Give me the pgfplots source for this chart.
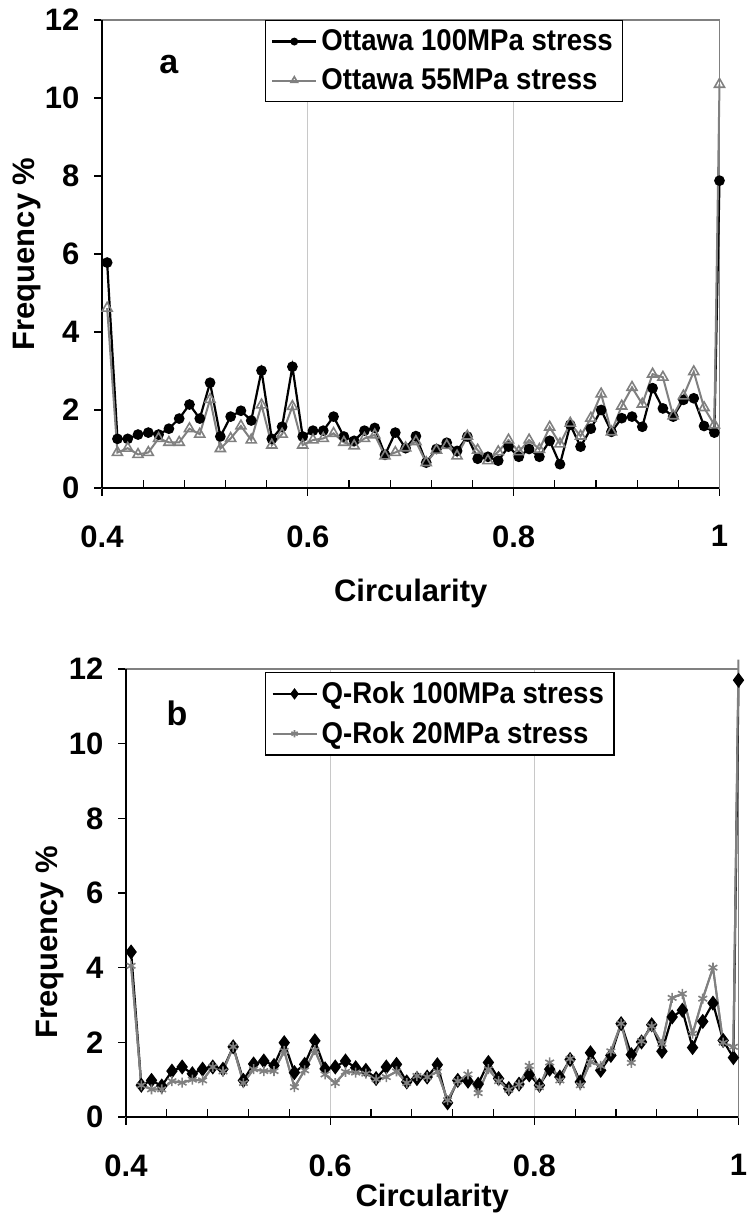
\documentclass[border=0pt]{standalone}
\usepackage{fontspec}
\setmainfont{Liberation Sans}
\newfontfamily\legfont[FakeStretch=0.92]{Liberation Sans}
\usepackage{pgfplots}
\usepackage{pgfplotstable}
\pgfplotsset{compat=1.18}
\definecolor{sgray}{HTML}{808080}
\definecolor{gridc}{HTML}{C8C8C8}

\pgfplotstableread{
x a b
0.405 5.78 4.61
0.415 1.26 0.91
0.425 1.26 1.02
0.435 1.37 0.86
0.445 1.42 0.91
0.455 1.37 1.27
0.465 1.52 1.17
0.475 1.78 1.17
0.485 2.14 1.52
0.495 1.78 1.38
0.505 2.70 2.27
0.515 1.32 1.01
0.525 1.83 1.27
0.535 1.98 1.59
0.545 1.73 1.23
0.555 3.01 2.13
0.565 1.26 1.10
0.575 1.57 1.38
0.585 3.11 2.09
0.595 1.32 1.10
0.605 1.47 1.23
0.615 1.47 1.27
0.625 1.83 1.40
0.635 1.32 1.17
0.645 1.21 1.08
0.655 1.47 1.27
0.665 1.54 1.36
0.675 0.85 0.82
0.685 1.42 0.91
0.695 1.02 1.03
0.705 1.33 1.19
0.715 0.65 0.65
0.725 1.00 0.97
0.735 1.16 1.09
0.745 0.95 0.82
0.755 1.32 1.33
0.765 0.75 0.97
0.775 0.80 0.70
0.785 0.70 0.93
0.795 1.06 1.23
0.805 0.80 0.93
0.815 1.00 1.23
0.825 0.80 0.99
0.835 1.21 1.56
0.845 0.61 1.13
0.855 1.62 1.66
0.865 1.06 1.33
0.875 1.52 1.79
0.885 2.00 2.41
0.895 1.44 1.44
0.905 1.79 2.10
0.915 1.83 2.58
0.925 1.57 2.15
0.935 2.56 2.92
0.945 2.04 2.84
0.955 1.83 1.85
0.965 2.26 2.36
0.975 2.30 2.98
0.985 1.59 2.06
0.995 1.42 1.62
1.000 7.88 10.35
}\tabA

\pgfplotstableread{
x a b
0.405 4.42 4.05
0.415 0.85 0.85
0.425 0.98 0.74
0.435 0.83 0.74
0.445 1.23 0.96
0.455 1.34 0.92
0.465 1.16 1.00
0.475 1.28 0.98
0.485 1.34 1.34
0.495 1.28 1.22
0.505 1.88 1.88
0.515 0.98 0.91
0.525 1.42 1.28
0.535 1.50 1.23
0.545 1.38 1.23
0.555 1.99 1.77
0.565 1.19 0.80
0.575 1.41 1.25
0.585 2.04 1.79
0.595 1.29 1.14
0.605 1.34 0.91
0.615 1.50 1.21
0.625 1.32 1.19
0.635 1.25 1.16
0.645 1.03 1.01
0.655 1.34 1.07
0.665 1.41 1.22
0.675 0.94 0.91
0.685 1.03 1.10
0.695 1.07 1.07
0.705 1.40 1.21
0.715 0.38 0.45
0.725 0.98 0.96
0.735 0.96 1.14
0.745 0.88 0.64
0.755 1.46 1.28
0.765 1.03 0.96
0.775 0.76 0.73
0.785 0.88 0.87
0.795 1.13 1.37
0.805 0.85 0.80
0.815 1.28 1.46
0.825 1.07 0.98
0.835 1.54 1.56
0.845 0.94 0.85
0.855 1.72 1.47
0.865 1.25 1.37
0.875 1.65 1.76
0.885 2.50 2.50
0.895 1.67 1.45
0.905 2.01 2.03
0.915 2.47 2.43
0.925 1.76 1.96
0.935 2.68 3.19
0.945 2.86 3.30
0.955 1.86 2.23
0.965 2.56 3.17
0.975 3.05 4.00
0.985 2.05 1.99
0.995 1.59 1.88
1.000 11.70 12.25
}\tabB

\pgfplotsset{
  panel/.style={
    scale only axis,
    xmin=0.4, xmax=1, ymin=0, ymax=12,
    xtick={0.4,0.6,0.8,1}, xticklabels={0.4,0.6,0.8,1},
    minor x tick num=4,
    ytick={0,2,4,6,8,10,12},
    xtick pos=left, ytick pos=left,
    tick align=inside,
    major tick length=-4pt,
    minor tick length=4pt,
    tick style={black, line width=0.6pt},
    axis line style={draw=sgray, line width=0.6pt},
    xmajorgrids, grid style={gridc, line width=0.6pt},
    clip=false,
    /pgf/number format/assume math mode=true,
    tick label style={font=\fontsize{15.5}{16}\selectfont\bfseries},
    label style={font=\fontsize{15.5}{16}\selectfont\bfseries},
    xticklabel style={yshift=-15.25pt},
    yticklabel style={xshift=-7.8pt},
    legend cell align=left,
    legend style={draw=black, line width=0.6pt, font=\legfont\fontsize{15}{17}\selectfont\bfseries,
      anchor=north west, inner xsep=3pt, inner ysep=2.5pt, row sep=3.5pt, nodes={inner sep=2pt}},
    legend image code/.code={\draw[mark repeat=2,mark phase=2,##1] plot coordinates {(0pt,0pt) (11pt,0pt) (22pt,0pt)};},
  }
}

\begin{document}
\begin{tikzpicture}
\path[use as bounding box] (0,0) rectangle (373.5pt,609.5pt);

\begin{axis}[panel,
  at={(51pt,365.5pt)}, anchor=south west,
  width=308.75pt, height=234pt,
  xlabel={Circularity}, ylabel={Frequency \%},
  xlabel style={at={(rel axis cs:0.5,-0.2244)}, anchor=center},
  ylabel style={at={(rel axis cs:-0.1215,0.5)}, anchor=center},
  legend style={at={(axis cs:0.558,12)}},
]
\addplot[black, line width=1.1pt, mark=*, mark size=2.1pt, mark options={solid, fill=black},
  legend image post style={mark size=1.4pt}] table[x=x, y=a] {\tabA};
\addlegendentry{Ottawa 100MPa stress}
\addplot[sgray, line width=1pt, mark=triangle, mark size=2.9pt, mark options={solid, line width=0.8pt},
  legend image post style={mark size=1.9pt}] table[x=x, y=b] {\tabA};
\addlegendentry{Ottawa 55MPa stress}
\draw[black, line width=0.9pt] (rel axis cs:0,0) -- (rel axis cs:1,0);
\draw[black, line width=0.9pt] (rel axis cs:0,0) -- (rel axis cs:0,1);
\node[font=\fontsize{17}{17}\selectfont\bfseries] at (axis cs:0.465,10.85) {a};
\end{axis}

\begin{axis}[panel,
  at={(63pt,51pt)}, anchor=south west,
  width=306.25pt, height=224pt,
  xlabel={Circularity}, ylabel={Frequency \%},
  xlabel style={at={(rel axis cs:0.5,-0.183)}, anchor=center},
  ylabel style={at={(rel axis cs:-0.124,0.39)}, anchor=center},
  legend style={at={(axis cs:0.536,11.92)}},
]
\addplot[black, line width=1.1pt, mark=diamond*, mark size=2.9pt, mark options={solid, fill=black},
  legend image post style={mark size=2pt}] table[x=x, y=a] {\tabB};
\addlegendentry{Q-Rok 100MPa stress}
\addplot[sgray, line width=1pt, forget plot] table[x=x, y=b] {\tabB};
\addplot[sgray, line width=1pt, mark=asterisk, mark size=2.5pt, mark options={solid, line width=0.8pt},
  skip coords between index={60}{61},
  legend image post style={mark size=1.8pt}] table[x=x, y=b] {\tabB};
\addlegendentry{Q-Rok 20MPa stress}
\draw[black, line width=0.9pt] (rel axis cs:0,0) -- (rel axis cs:1,0);
\draw[black, line width=0.9pt] (rel axis cs:0,0) -- (rel axis cs:0,1);
\node[font=\fontsize{17}{17}\selectfont\bfseries] at (axis cs:0.45,10.8) {b};
\end{axis}
\end{tikzpicture}
\end{document}
